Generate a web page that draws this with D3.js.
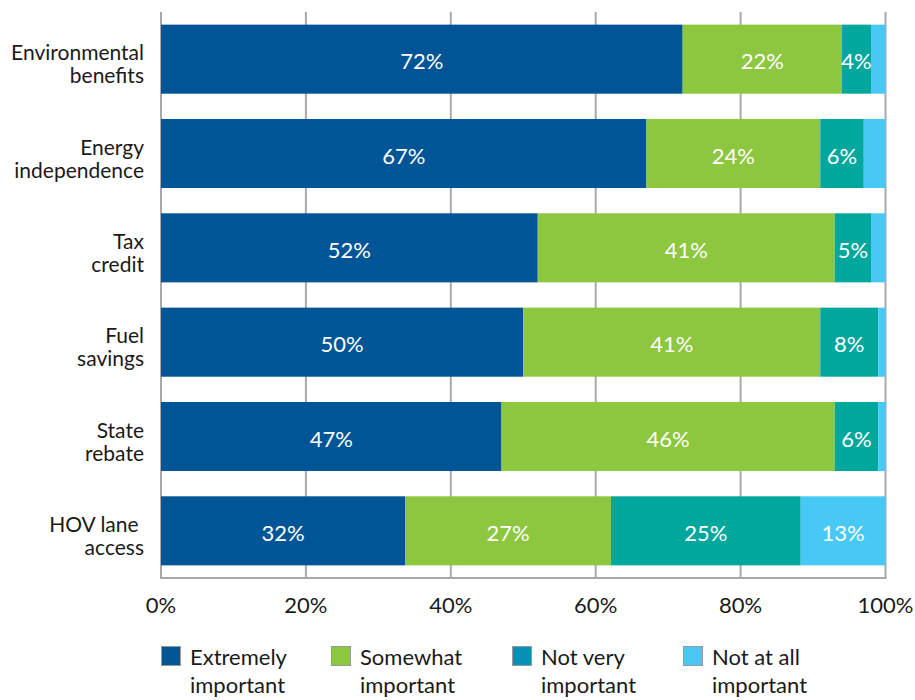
<!DOCTYPE html>
<html>
<head>
<meta charset="utf-8">
<script src="https://cdn.jsdelivr.net/npm/d3@7"></script>
<style>
  html, body { margin: 0; padding: 0; background: #fff; }
  svg { display: block; font-family: Lato, "Open Sans", sans-serif; }
</style>
</head>
<body>
<svg id="chart" width="915" height="700"></svg>
<script>
// Categories (two-line labels)
const categories = ["Environmental benefits", "Energy independence", "Tax credit", "Fuel savings", "State rebate", "HOV lane access"];
const categoryLines = [["Environmental", "benefits"], ["Energy", "independence"], ["Tax", "credit"], ["Fuel", "savings"], ["State", "rebate"], ["HOV lane\u00a0", "access"]];

// Series (segment widths in %, as drawn)
const seriesNames = ["Extremely important", "Somewhat important", "Not very important", "Not at all important"];
const extremely = [72, 67, 52, 50, 47, 33.7];
const somewhat  = [22, 24, 41, 41, 46, 28.4];
const notVery   = [4, 6, 5, 8, 6, 26.2];
const notAtAll  = [2, 3, 2, 1, 1, 11.7];

// Printed labels on segments ("" = not shown)
const labelsExtremely = ["72%", "67%", "52%", "50%", "47%", "32%"];
const labelsSomewhat  = ["22%", "24%", "41%", "41%", "46%", "27%"];
const labelsNotVery   = ["4%", "6%", "5%", "8%", "6%", "25%"];
const labelsNotAtAll  = ["", "", "", "", "", "13%"];

const xTicks = [0, 20, 40, 60, 80, 100];
const legendLines = [["Extremely", "important"], ["Somewhat", "important"], ["Not very", "important"], ["Not at all", "important"]];

const barColors = ["#005596", "#8dc63f", "#00a79d", "#48c9f5"];
const legendColors = ["#005596", "#8dc63f", "#0a90b6", "#48c9f5"];

const svg = d3.select("#chart");
const x = d3.scaleLinear().domain([0, 100]).range([161, 885.5]);
const y = d3.scaleBand().domain(categories).range([12, 578]).paddingInner(0.268).paddingOuter(0.134);

const gridColor = "#a7a9ac";

// gridlines
svg.append("g").selectAll("line").data(xTicks).join("line")
  .attr("x1", d => x(d)).attr("x2", d => x(d))
  .attr("y1", 12).attr("y2", 578)
  .attr("stroke", gridColor).attr("stroke-width", 2);

// stacked data
const rows = categories.map((c, i) => ({
  cat: c,
  vals: [extremely[i], somewhat[i], notVery[i], notAtAll[i]],
  labels: [labelsExtremely[i], labelsSomewhat[i], labelsNotVery[i], labelsNotAtAll[i]]
}));
const segs = [];
rows.forEach(r => {
  let acc = 0;
  r.vals.forEach((v, k) => {
    segs.push({cat: r.cat, k, x0: acc, x1: acc + v, label: r.labels[k]});
    acc += v;
  });
});

svg.append("g").selectAll("rect").data(segs).join("rect")
  .attr("x", d => x(d.x0))
  .attr("width", d => x(d.x1) - x(d.x0))
  .attr("y", d => y(d.cat))
  .attr("height", y.bandwidth())
  .attr("fill", d => barColors[d.k]);

svg.append("g").selectAll("text").data(segs.filter(d => d.label)).join("text")
  .attr("x", d => (x(d.x0) + x(d.x1)) / 2)
  .attr("y", d => y(d.cat) + y.bandwidth() / 2 + 10)
  .attr("text-anchor", "middle")
  .attr("fill", "#fff")
  .attr("font-size", 22)
  .text(d => d.label);

// axis line
svg.append("line")
  .attr("x1", x(0) - 1).attr("x2", x(100) + 1)
  .attr("y1", 578).attr("y2", 578)
  .attr("stroke", gridColor).attr("stroke-width", 2);

// x tick labels
svg.append("g").selectAll("text").data(xTicks).join("text")
  .attr("x", d => x(d))
  .attr("y", 613)
  .attr("text-anchor", "middle")
  .attr("fill", "#1a1a1a")
  .attr("font-size", 22)
  .text(d => d + "%");

// category labels
const catG = svg.append("g");
categories.forEach((c, i) => {
  const cy = y(c) + y.bandwidth() / 2;
  const t = catG.append("text")
    .attr("text-anchor", "end")
    .attr("fill", "#1a1a1a")
    .attr("font-size", 21)
    .style("white-space", "pre");
  categoryLines[i].forEach((line, j) => {
    t.append("tspan").attr("x", 144).attr("y", cy + 1 + j * 23).text(line);
  });
});

// legend
const legendX = [161, 331, 512, 683];
const lg = svg.append("g");
seriesNames.forEach((s, i) => {
  lg.append("rect")
    .attr("x", legendX[i] + 0.5).attr("y", 646.5)
    .attr("width", 19).attr("height", 19)
    .attr("fill", legendColors[i])
    .attr("stroke", "#9a9a9a").attr("stroke-width", 1);
  const t = lg.append("text").attr("fill", "#1a1a1a").attr("font-size", 22);
  legendLines[i].forEach((line, j) => {
    t.append("tspan").attr("x", legendX[i] + 29).attr("y", 665 + j * 28).text(line);
  });
});
</script>
</body>
</html>
